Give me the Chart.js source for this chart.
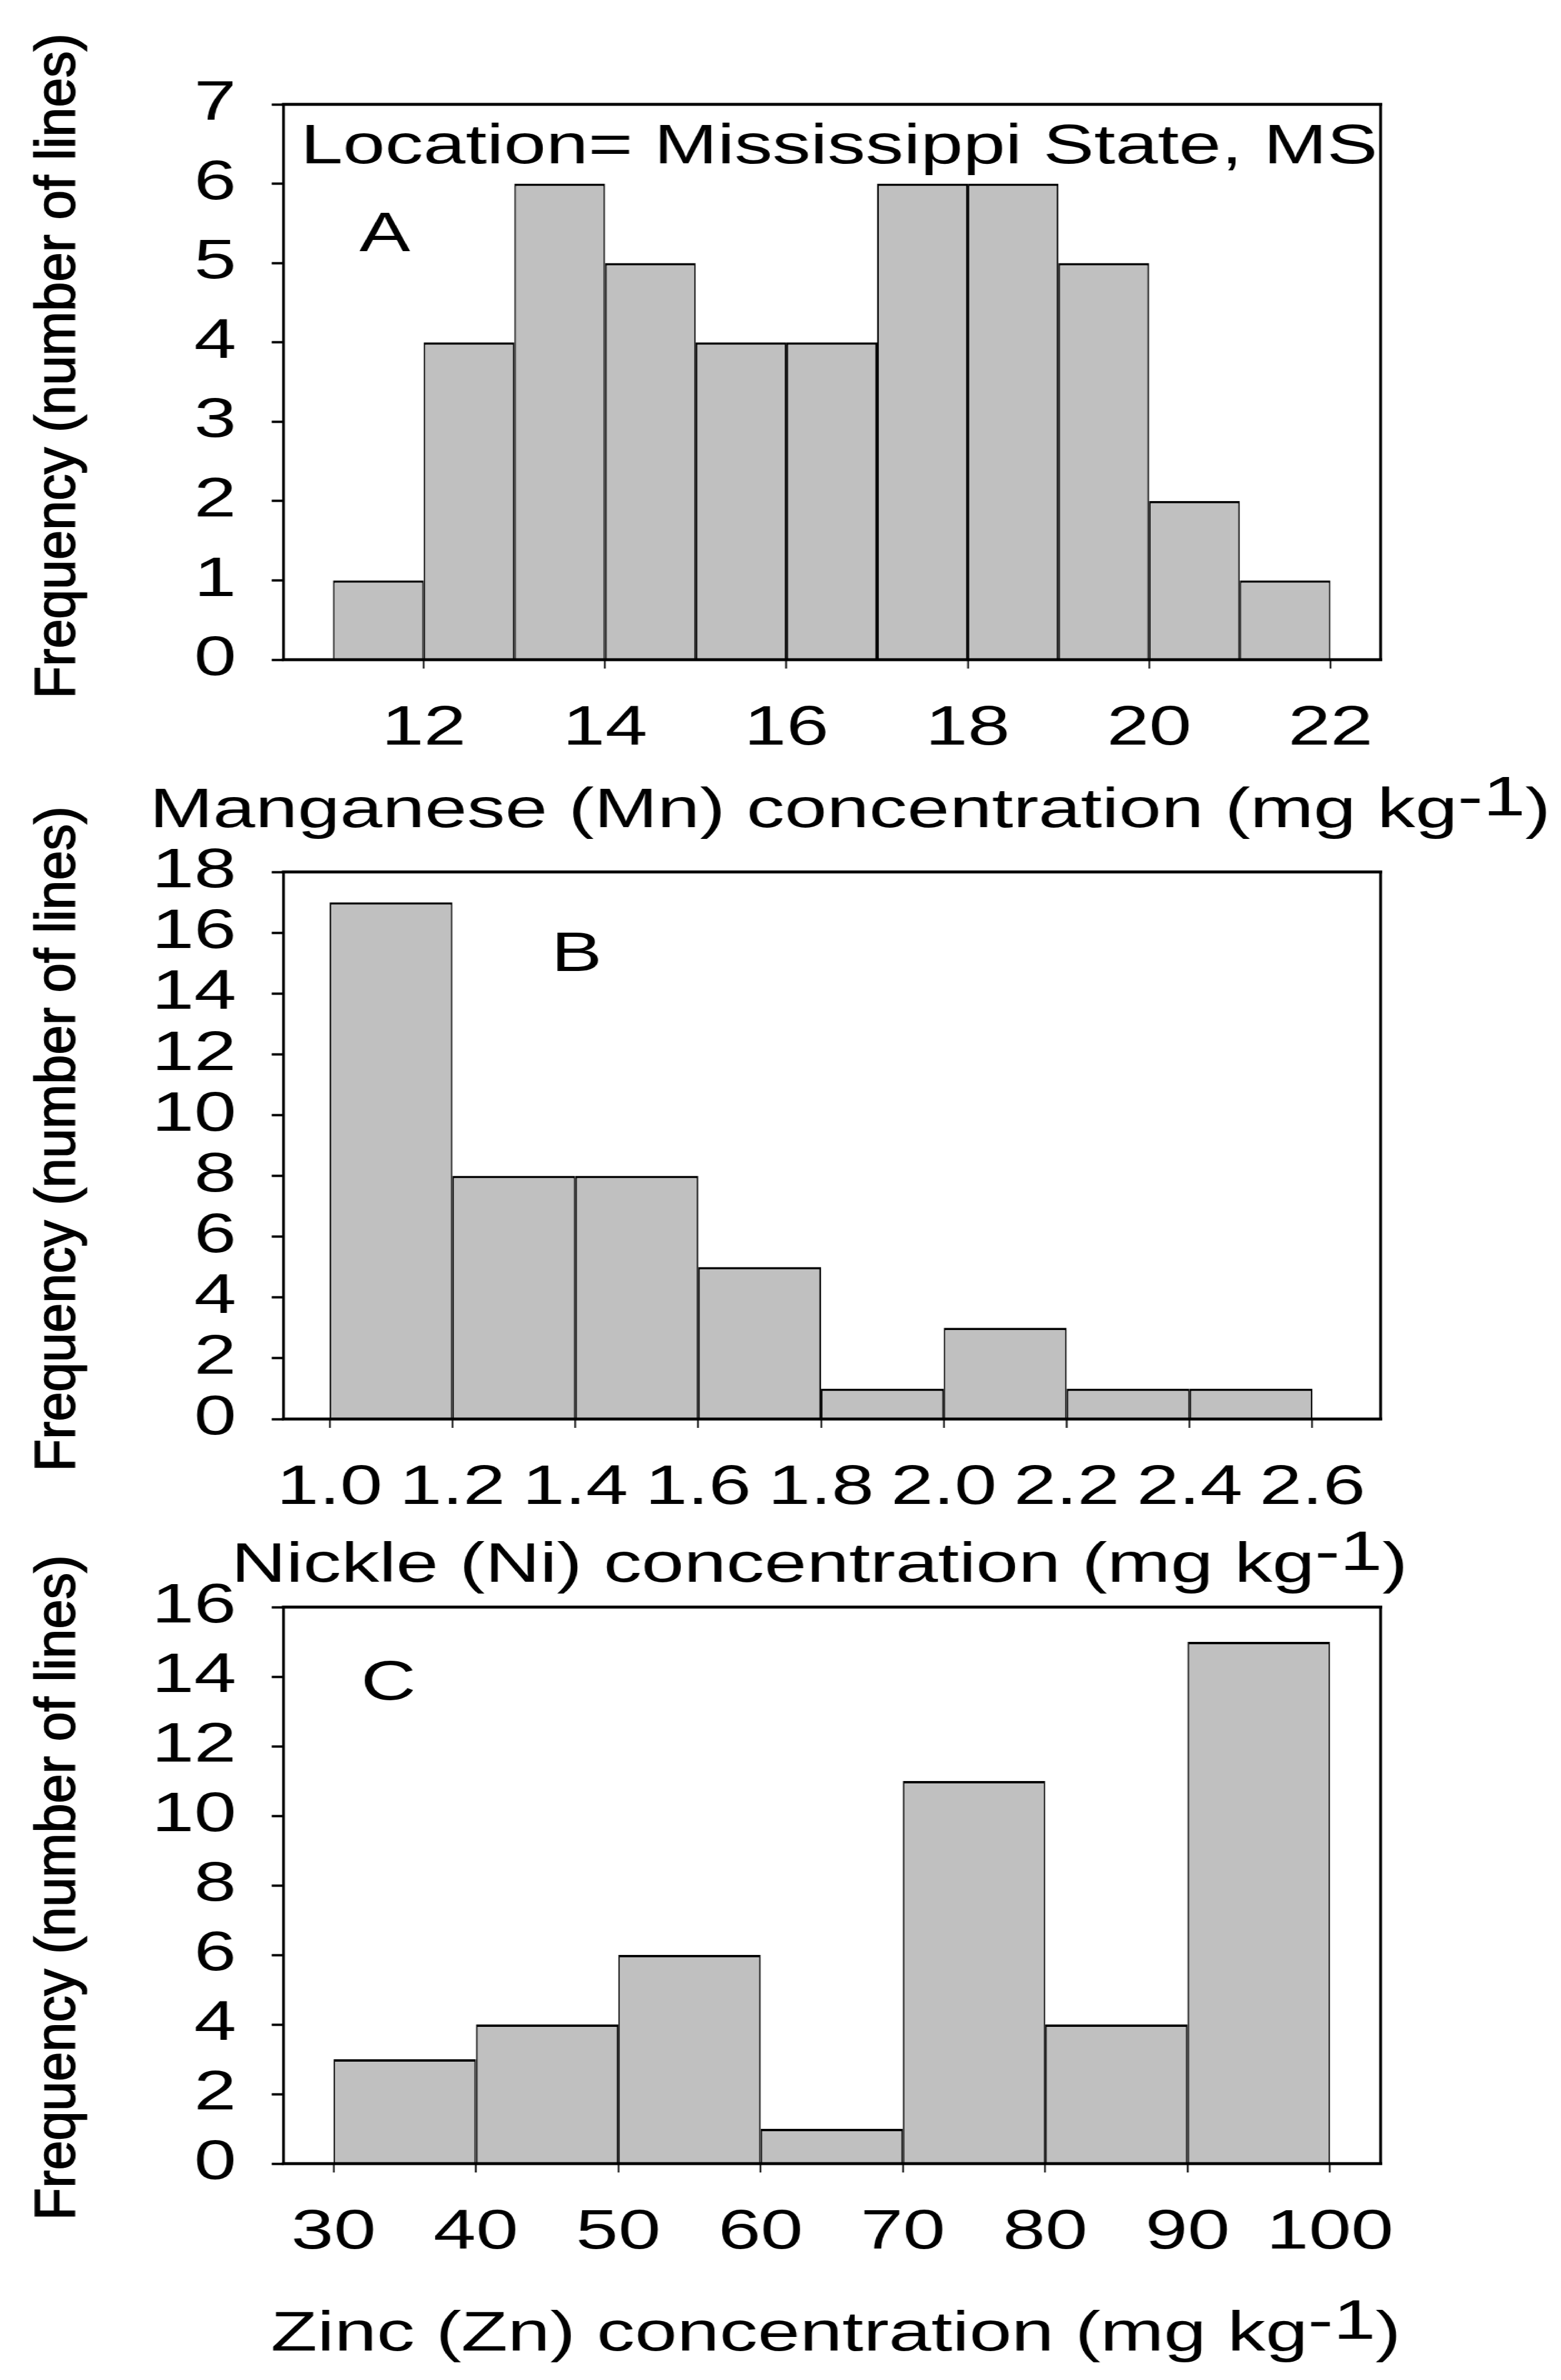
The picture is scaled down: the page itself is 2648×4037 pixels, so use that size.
<!DOCTYPE html>
<html>
<head>
<meta charset="utf-8">
<script src="https://cdn.jsdelivr.net/npm/chart.js@4.4.0/dist/chart.umd.min.js"></script>
<style>
  html, body { margin: 0; padding: 0; background: #fff; }
  /* the original figure is stretched sideways, so draw narrow and scale the box */
  #wrap { position: absolute; left: 0; top: 0; width: 1947px; height: 4037px; transform: scaleX(1.36); transform-origin: 0 0; }
  #wrap canvas { position: absolute; left: 0; top: 0; }
</style>
</head>
<body>
<div id="wrap">
  <canvas id="chartMn" width="1947" height="4037"></canvas>
  <canvas id="chartNi" width="1947" height="4037"></canvas>
  <canvas id="chartZn" width="1947" height="4037"></canvas>
</div>
<script>
// histogram data (bin edges + counts)
const mnEdges = [11, 12, 13, 14, 15, 16, 17, 18, 19, 20, 21, 22];
const mnCounts = [1, 4, 6, 5, 4, 4, 6, 6, 5, 2, 1];
const mnTicks = [12, 14, 16, 18, 20, 22];
const mnYTicks = [0, 1, 2, 3, 4, 5, 6, 7];

const niEdges = [1.0, 1.2, 1.4, 1.6, 1.8, 2.0, 2.2, 2.4, 2.6];
const niCounts = [17, 8, 8, 5, 1, 3, 1, 1];
const niTicks = [1.0, 1.2, 1.4, 1.6, 1.8, 2.0, 2.2, 2.4, 2.6];
const niYTicks = [0, 2, 4, 6, 8, 10, 12, 14, 16, 18];

const znEdges = [30, 40, 50, 60, 70, 80, 90, 100];
const znCounts = [3, 4, 6, 1, 11, 4, 15];
const znTicks = [30, 40, 50, 60, 70, 80, 90, 100];
const znYTicks = [0, 2, 4, 6, 8, 10, 12, 14, 16];

const W = 1947, H = 4037;
const S = 2648 / W;          // horizontal stretch of the wrapper
const FONT = '"Liberation Sans", Arial, sans-serif';
const plotLeft = 481 / S, plotRight = 2342 / S;
const AXIS_H = 300;

function binData(edges, counts) {
  return counts.map((c, i) => ({ x: (edges[i] + edges[i + 1]) / 2, y: c }));
}

const panelText = {
  id: 'panelText',
  afterDraw(chart, args, o) {
    const ctx = chart.ctx;
    const a = chart.chartArea;
    const xs = chart.scales.x, ys = chart.scales.y;
    ctx.save();
    ctx.fillStyle = '#000';
    ctx.strokeStyle = '#000';

    // frame
    ctx.lineWidth = 5;
    ctx.beginPath();
    ctx.moveTo(a.left - 2, a.top); ctx.lineTo(a.right + 2, a.top);
    ctx.moveTo(a.left - 2, a.bottom); ctx.lineTo(a.right + 2, a.bottom);
    ctx.stroke();
    ctx.lineWidth = 3.5;
    ctx.beginPath();
    ctx.moveTo(a.left, a.top); ctx.lineTo(a.left, a.bottom);
    ctx.moveTo(a.right, a.top); ctx.lineTo(a.right, a.bottom);
    ctx.stroke();

    ctx.font = '95px ' + FONT;
    ctx.textBaseline = 'alphabetic';

    // panel letter
    ctx.textAlign = 'center';
    ctx.fillText(o.letter, xs.getPixelForValue(o.letterAt[0]), ys.getPixelForValue(o.letterAt[1]));

    if (o.note) {
      ctx.textAlign = 'left';
      ctx.fillText(o.note, xs.getPixelForValue(o.noteAt[0]), ys.getPixelForValue(o.noteAt[1]));
    }

    // x title with superscript
    const w1 = ctx.measureText(o.xTitle).width;
    const w2 = ctx.measureText('-1').width;
    const w3 = ctx.measureText(')').width;
    const x0 = o.xTitleCx / S - (w1 + w2 + w3) / 2;
    ctx.textAlign = 'left';
    ctx.fillText(o.xTitle, x0, o.xTitleY);
    ctx.fillText('-1', x0 + w1, o.xTitleY - 20);
    ctx.fillText(')', x0 + w1 + w2, o.xTitleY);

    // y title, not stretched, a bit heavier like the original
    ctx.save();
    ctx.scale(1 / S, 1);
    ctx.translate(127, o.yTitleCy);
    ctx.rotate(-Math.PI / 2);
    ctx.scale(0.95, 1);
    ctx.textAlign = 'center';
    ctx.lineWidth = 2;
    ctx.fillText('Frequency (number of lines)', 0, 0);
    ctx.strokeText('Frequency (number of lines)', 0, 0);
    ctx.restore();

    ctx.restore();
  }
};

function makeChart(id, edges, counts, xTicks, yTicks, dec, xMin, xMax, top, bottom, text) {
  return new Chart(document.getElementById(id), {
    type: 'bar',
    data: {
      datasets: [{
        data: binData(edges, counts),
        backgroundColor: '#c0c0c0',
        borderColor: '#000',
        borderWidth: { top: 4, left: 2, right: 2, bottom: 0 },
        borderSkipped: false,
        inflateAmount: 0,
        barPercentage: 1,
        categoryPercentage: 1
      }]
    },
    options: {
      responsive: false,
      animation: false,
      devicePixelRatio: 1,
      events: [],
      layout: {
        autoPadding: false,
        padding: { top: top, left: 0, right: W - plotRight, bottom: H - bottom - AXIS_H }
      },
      plugins: {
        legend: { display: false },
        tooltip: { enabled: false },
        panelText: text
      },
      scales: {
        x: {
          type: 'linear',
          offset: false,
          min: xMin,
          max: xMax,
          afterFit: s => { s.height = AXIS_H; },
          afterBuildTicks: s => { s.ticks = xTicks.map(v => ({ value: v })); },
          border: { display: false },
          grid: { display: true, offset: false, drawOnChartArea: false, drawTicks: true, tickLength: 15, tickWidth: 2, tickColor: '#000' },
          ticks: {
            autoSkip: false, maxRotation: 0, padding: 46, color: '#000',
            font: { family: FONT, size: 95 },
            callback: v => v.toFixed(dec)
          }
        },
        y: {
          min: 0,
          max: yTicks[yTicks.length - 1],
          afterFit: s => { s.width = plotLeft; },
          afterBuildTicks: s => { s.ticks = yTicks.map(v => ({ value: v })); },
          border: { display: false },
          grid: { display: true, drawOnChartArea: false, drawTicks: true, tickLength: 20 / S, tickWidth: 4, tickColor: '#000' },
          ticks: {
            autoSkip: false, padding: 60 / S, color: '#000',
            font: { family: FONT, size: 95 },
            callback: v => String(v)
          }
        }
      }
    },
    plugins: [panelText]
  });
}

makeChart('chartMn', mnEdges, mnCounts, mnTicks, mnYTicks, 0, 10.454, 22.553, 177, 1119, {
  letter: 'A', letterAt: [11.57, 5.15],
  note: 'Location= Mississippi State, MS', noteAt: [10.64, 6.26],
  xTitle: 'Manganese (Mn) concentration (mg kg', xTitleCx: 1442, xTitleY: 1403,
  yTitleCy: 621
});

makeChart('chartNi', niEdges, niCounts, niTicks, niYTicks, 1, 0.925, 2.711, 1479, 2407, {
  letter: 'B', letterAt: [1.402, 14.74],
  xTitle: 'Nickle (Ni) concentration (mg kg', xTitleCx: 1390, xTitleY: 2683,
  yTitleCy: 1932
});

makeChart('chartZn', znEdges, znCounts, znTicks, znYTicks, 0, 26.48, 103.56, 2726, 3670, {
  letter: 'C', letterAt: [33.85, 13.34],
  xTitle: 'Zinc (Zn) concentration (mg kg', xTitleCx: 1418, xTitleY: 3987,
  yTitleCy: 3202
});
</script>
</body>
</html>
